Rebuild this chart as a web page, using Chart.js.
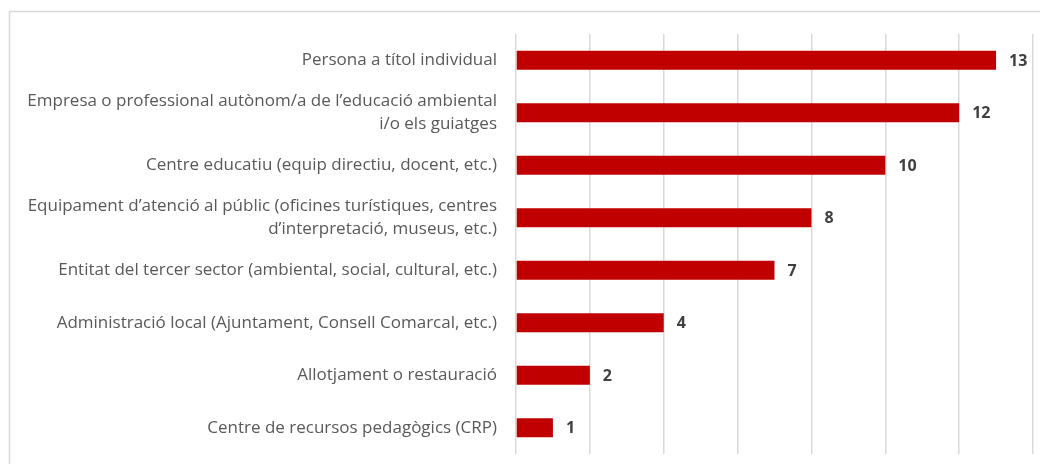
<!DOCTYPE html>
<html lang="ca">
  <head>
    <meta charset="UTF-8" />
    <script src="https://cdn.jsdelivr.net/npm/chart.js"></script>
    <title>Perfil</title>
    <style>
      body { margin: 0; background: #fff; }
      #wrap { width: 1040px; height: 464px; }
    </style>
  </head>
  <body>
    <div id="wrap"><canvas id="myChart"></canvas></div>
    <script>
      // categories (multi-line labels as arrays)
      const categories = [
        "Persona a títol individual",
        ["Empresa o professional autònom/a de l’educació ambiental", "i/o els guiatges"],
        "Centre educatiu (equip directiu, docent, etc.)",
        ["Equipament d’atenció al públic (oficines turístiques, centres", "d’interpretació, museus, etc.)"],
        "Entitat del tercer sector (ambiental, social, cultural, etc.)",
        "Administració local (Ajuntament, Consell Comarcal, etc.)",
        "Allotjament o restauració",
        "Centre de recursos pedagògics (CRP)"
      ];
      const values = [13, 12, 10, 8, 7, 4, 2, 1];
      const xMax = 14;
      const xStep = 2;

      const FONT = "'Open Sans', 'Noto Sans', sans-serif";

      // frame round the chart + value labels after each bar
      const extras = {
        id: "extras",
        beforeDraw(chart) {
          const ctx = chart.ctx;
          ctx.save();
          ctx.fillStyle = "#fff";
          ctx.fillRect(0, 0, chart.width, chart.height);
          ctx.strokeStyle = "#d9d9d9";
          ctx.lineWidth = 1.5;
          ctx.strokeRect(9.5, 11.5, 1100, 500);
          ctx.restore();
        },
        afterDatasetsDraw(chart) {
          const ctx = chart.ctx;
          const meta = chart.getDatasetMeta(0);
          ctx.save();
          ctx.font = "bold 16px " + FONT;
          ctx.fillStyle = "#404040";
          ctx.textAlign = "left";
          ctx.textBaseline = "middle";
          meta.data.forEach((bar, i) => {
            ctx.fillText(String(values[i]), bar.x + 13, bar.y + 1);
          });
          ctx.restore();
        }
      };

      const config = {
        type: "bar",
        data: {
          labels: categories,
          datasets: [
            {
              data: values,
              backgroundColor: "#c00000",
              borderWidth: 0,
              barPercentage: 0.6,
              categoryPercentage: 0.6
            }
          ]
        },
        options: {
          indexAxis: "y",
          responsive: true,
          maintainAspectRatio: false,
          animation: false,
          layout: { padding: { top: 34, bottom: 10, right: 7, left: 0 } },
          plugins: { legend: { display: false }, tooltip: { enabled: false } },
          scales: {
            x: {
              min: 0,
              max: xMax,
              ticks: { display: false, stepSize: xStep },
              grid: { color: "#d9d9d9", lineWidth: 1.5, drawTicks: false },
              border: { display: false },
              afterFit(scale) {
                scale.height = 0;
                scale.paddingLeft = 0;
                scale.paddingRight = 0;
              }
            },
            y: {
              grid: { display: false, drawTicks: false },
              border: { display: false },
              ticks: {
                padding: 19,
                color: "#595959",
                font: { family: FONT, size: 17, lineHeight: 1.4 }
              },
              afterFit(scale) {
                scale.width = 516;
                scale.paddingTop = 0;
                scale.paddingBottom = 0;
              }
            }
          }
        },
        plugins: [extras]
      };

      var myChart = new Chart(document.getElementById("myChart"), config);
    </script>
  </body>
</html>
